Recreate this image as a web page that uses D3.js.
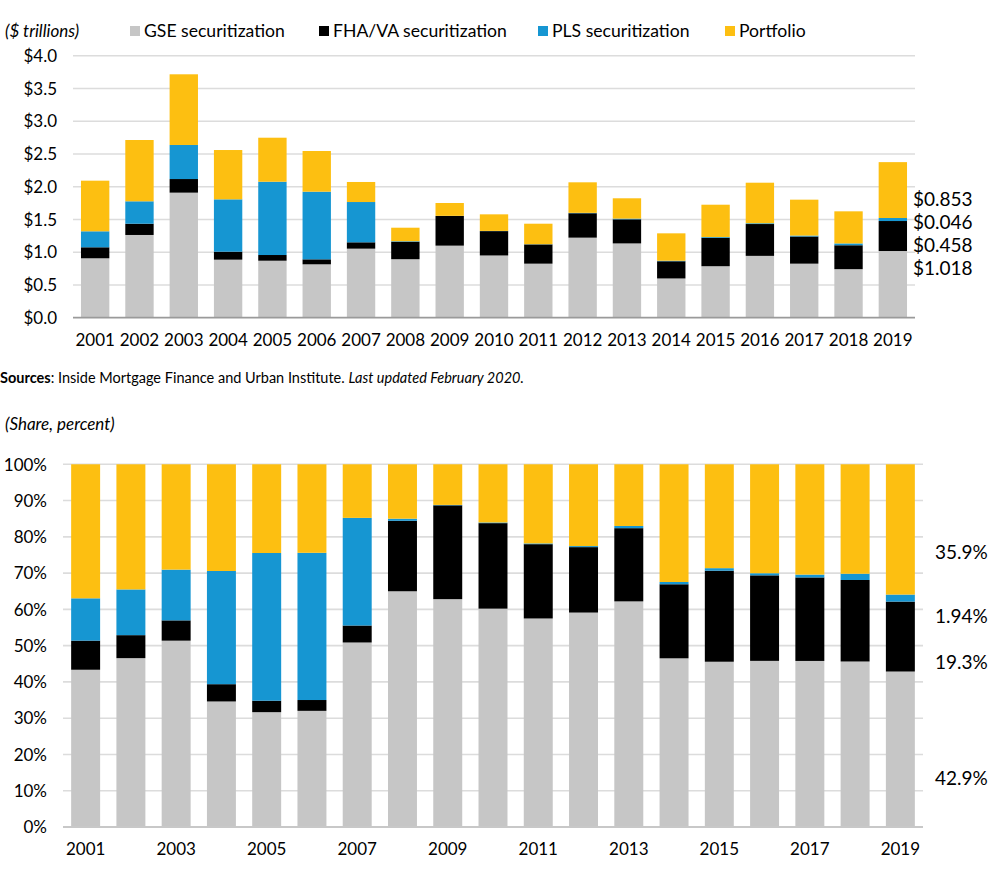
<!DOCTYPE html>
<html>
<head>
<meta charset="utf-8">
<script src="https://cdn.jsdelivr.net/npm/d3@7"></script>
<style>
  html, body { margin: 0; padding: 0; background: #fff; }
  svg { display: block; font-family: Lato, "Open Sans", sans-serif; }
</style>
</head>
<body>
<svg id="chart" width="999" height="874"></svg>
<script>
const years = ["2001","2002","2003","2004","2005","2006","2007","2008","2009","2010","2011","2012","2013","2014","2015","2016","2017","2018","2019"];
const seriesNames = ["GSE securitization", "FHA/VA securitization", "PLS securitization", "Portfolio"];
const gse  = [0.907,1.263,1.909,0.886,0.870,0.815,1.054,0.893,1.100,0.950,0.825,1.222,1.134,0.599,0.786,0.944,0.825,0.741,1.018];
const fha  = [0.168,0.172,0.208,0.122,0.087,0.076,0.097,0.267,0.453,0.372,0.294,0.373,0.368,0.263,0.433,0.486,0.415,0.365,0.458];
const pls  = [0.244,0.342,0.520,0.799,1.119,1.033,0.615,0.008,0.002,0.003,0.003,0.006,0.011,0.008,0.012,0.012,0.014,0.028,0.046];
const port = [0.773,0.936,1.079,0.753,0.672,0.621,0.306,0.206,0.196,0.253,0.313,0.466,0.310,0.418,0.494,0.619,0.548,0.490,0.853];
const topTicks = [0, 0.5, 1, 1.5, 2, 2.5, 3, 3.5, 4];
const shareTicks = [0, 0.1, 0.2, 0.3, 0.4, 0.5, 0.6, 0.7, 0.8, 0.9, 1];
const shareYearLabels = ["2001","2003","2005","2007","2009","2011","2013","2015","2017","2019"];
const topLabels = ["$0.853", "$0.046", "$0.458", "$1.018"];
const topLabelPos = [1.812, 1.461, 1.110, 0.748];
const shareLabels = ["35.9%", "1.94%", "19.3%", "42.9%"];
const shareLabelPos = [0.758, 0.582, 0.455, 0.135];

const colors = ["#c6c6c6", "#000000", "#1696d2", "#fdbf11"];
const keys = ["gse", "fha", "pls", "port"];

const rows = years.map((y, i) => ({year: y, gse: gse[i], fha: fha[i], pls: pls[i], port: port[i]}));
const shareRows = rows.map(r => {
  const t = r.gse + r.fha + r.pls + r.port;
  return {year: r.year, gse: r.gse / t, fha: r.fha / t, pls: r.pls / t, port: r.port / t};
});

const svg = d3.select("#chart");
const font = "Lato, 'Open Sans', sans-serif";

// ---------- Top chart ----------
const x1 = d3.scaleBand().domain(years).range([73, 915]).paddingInner(0.36).paddingOuter(0.18);
const y1 = d3.scaleLinear().domain([0, 4]).range([317.7, 55.7]);

const g1 = svg.append("g");
g1.selectAll("line.grid").data(topTicks.filter(d => d > 0)).join("line")
  .attr("x1", 73).attr("x2", 915)
  .attr("y1", d => y1(d)).attr("y2", d => y1(d))
  .attr("stroke", "#dcdcdc").attr("stroke-width", 1.6);

const stack = d3.stack().keys(keys);
const s1 = stack(rows);
g1.selectAll("g.series").data(s1).join("g")
  .attr("fill", (d, i) => colors[i])
  .selectAll("rect").data(d => d).join("rect")
  .attr("x", d => x1(d.data.year))
  .attr("width", x1.bandwidth())
  .attr("y", d => y1(d[1]))
  .attr("height", d => Math.max(0, y1(d[0]) - y1(d[1])));

g1.append("line").attr("x1", 73).attr("x2", 915).attr("y1", y1(0)).attr("y2", y1(0))
  .attr("stroke", "#9a9a9a").attr("stroke-width", 1.8);

const yAxis1 = d3.axisLeft(y1).tickValues(topTicks).tickSize(0).tickPadding(0)
  .tickFormat(d => "$" + d3.format(".1f")(d));
g1.append("g").attr("transform", "translate(57,0)").call(yAxis1)
  .call(g => g.select(".domain").remove())
  .selectAll("text").attr("font-family", font).attr("font-size", 17).attr("fill", "#000").attr("dy", "0.34em");

const xAxis1 = d3.axisBottom(x1).tickSize(0).tickPadding(0);
g1.append("g").attr("transform", "translate(0,334)").call(xAxis1)
  .call(g => g.select(".domain").remove())
  .selectAll("text").attr("font-family", font).attr("font-size", 17).attr("fill", "#000").attr("dy", "0.71em");

g1.selectAll("text.rl").data(topLabels).join("text")
  .attr("x", 913).attr("y", (d, i) => y1(topLabelPos[i])).attr("dy", "0.35em")
  .attr("font-family", font).attr("font-size", 19).attr("fill", "#000")
  .text(d => d);

// legend
svg.append("text").attr("x", 5).attr("y", 37).attr("font-family", font)
  .attr("font-size", 17).attr("font-style", "italic").text("($ trillions)");
const legendX = [130, 319, 538, 725];
const lg = svg.selectAll("g.legend").data(seriesNames).join("g")
  .attr("transform", (d, i) => `translate(${legendX[i]},0)`);
lg.append("rect").attr("x", 0).attr("y", 26).attr("width", 10).attr("height", 10)
  .attr("fill", (d, i) => colors[i]);
lg.append("text").attr("x", 14).attr("y", 37).attr("font-family", font).attr("font-size", 17.6)
  .text(d => d);

// sources
const src = svg.append("text").attr("x", 0).attr("y", 383).attr("font-family", font).attr("font-size", 14.5);
src.append("tspan").attr("font-weight", "bold").text("Sources");
src.append("tspan").text(": Inside Mortgage Finance and Urban Institute. ");
src.append("tspan").attr("font-style", "italic").text("Last updated February 2020.");

// ---------- Bottom chart ----------
svg.append("text").attr("x", 5).attr("y", 430).attr("font-family", font)
  .attr("font-size", 17).attr("font-style", "italic").text("(Share, percent)");

const x2 = d3.scaleBand().domain(years).range([63, 923]).paddingInner(0.36).paddingOuter(0.18);
const y2 = d3.scaleLinear().domain([0, 1]).range([827, 464.3]);
const g2 = svg.append("g");

g2.selectAll("line.grid").data(shareTicks.filter(d => d > 0)).join("line")
  .attr("x1", 63).attr("x2", 923)
  .attr("y1", d => y2(d)).attr("y2", d => y2(d))
  .attr("stroke", "#dcdcdc").attr("stroke-width", 1.6);

const s2 = stack(shareRows);
g2.selectAll("g.series").data(s2).join("g")
  .attr("fill", (d, i) => colors[i])
  .selectAll("rect").data(d => d).join("rect")
  .attr("x", d => x2(d.data.year))
  .attr("width", x2.bandwidth())
  .attr("y", d => y2(d[1]))
  .attr("height", d => Math.max(0, y2(d[0]) - y2(d[1])));

g2.append("line").attr("x1", 63).attr("x2", 923).attr("y1", y2(0)).attr("y2", y2(0))
  .attr("stroke", "#c8c8c8").attr("stroke-width", 1.8);

const yAxis2 = d3.axisLeft(y2).tickValues(shareTicks).tickSize(0).tickPadding(0)
  .tickFormat(d3.format(".0%"));
g2.append("g").attr("transform", "translate(47,0)").call(yAxis2)
  .call(g => g.select(".domain").remove())
  .selectAll("text").attr("font-family", font).attr("font-size", 17).attr("fill", "#000").attr("dy", "0.34em");

const xAxis2 = d3.axisBottom(x2).tickValues(shareYearLabels).tickSize(0).tickPadding(0);
g2.append("g").attr("transform", "translate(0,843)").call(xAxis2)
  .call(g => g.select(".domain").remove())
  .selectAll("text").attr("font-family", font).attr("font-size", 17).attr("fill", "#000").attr("dy", "0.71em");

g2.selectAll("text.rl").data(shareLabels).join("text")
  .attr("x", 935).attr("y", (d, i) => y2(shareLabelPos[i])).attr("dy", "0.35em")
  .attr("font-family", font).attr("font-size", 19).attr("fill", "#000")
  .text(d => d);
</script>
</body>
</html>
